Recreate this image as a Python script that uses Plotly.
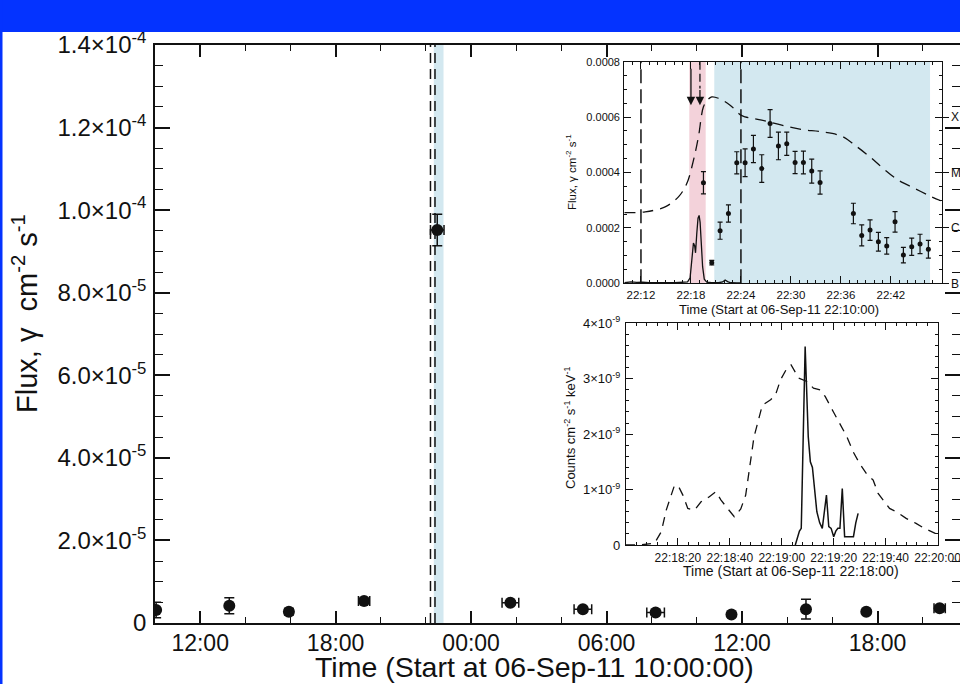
import plotly.graph_objects as go

FONT = "Liberation Sans, Arial, Helvetica, sans-serif"
W, H = 960, 684

# ---------------- Main panel (hours since 06-Sep-11 10:00:00) ----------------
main_hours = [0.05, 3.29, 5.93, 9.26, 12.50, 15.74, 18.95, 22.17, 25.53, 28.83, 31.50, 34.75]
main_flux = [3.15e-6, 4.19e-6, 2.74e-6, 5.33e-6, 9.52e-5, 4.90e-6, 3.35e-6, 2.57e-6,
             2.06e-6, 3.35e-6, 2.75e-6, 3.60e-6]
main_flux_err = [1.9e-6, 1.94e-6, 0.8e-6, 0.6e-6, 3.8e-6, 0.5e-6, 0.5e-6, 0.5e-6,
                 0.5e-6, 2.4e-6, 0.5e-6, 0.6e-6]
main_hours_err = [0.0, 0.0, 0.0, 0.25, 0.30, 0.37, 0.39, 0.39, 0.0, 0.0, 0.0, 0.25]
main_tick_hours = [2, 8, 14, 20, 26, 32]
main_tick_text = ["12:00", "18:00", "00:00", "06:00", "12:00", "18:00"]
main_ytick_vals = [0, 2e-5, 4e-5, 6e-5, 8e-5, 1.0e-4, 1.2e-4, 1.4e-4]
main_ytick_text = ["0", "2.0×10<sup>-5</sup>", "4.0×10<sup>-5</sup>", "6.0×10<sup>-5</sup>",
                   "8.0×10<sup>-5</sup>", "1.0×10<sup>-4</sup>", "1.2×10<sup>-4</sup>",
                   "1.4×10<sup>-4</sup>"]

# ---------------- Inset 1 (minutes since 06-Sep-11 22:10:00) ----------------
in1_goes_min = [0, 2.5, 4.9, 6.5, 7.5, 8.3, 8.9, 9.5, 10.0, 10.5, 11.3, 12.7, 14.0, 14.5,
                16.5, 18.9, 21.3, 23.7, 26.1, 27.7, 29.5, 31.1, 32.9, 34.9, 36.9, 38.0]
in1_goes_val = [2.55e-4, 2.58e-4, 2.76e-4, 3.12e-4, 3.60e-4, 4.44e-4, 5.29e-4, 6.37e-4,
                6.62e-4, 6.73e-4, 6.68e-4, 6.43e-4, 6.07e-4, 6.01e-4, 5.89e-4, 5.71e-4,
                5.55e-4, 5.47e-4, 5.31e-4, 4.98e-4, 4.56e-4, 4.14e-4, 3.72e-4, 3.42e-4,
                3.12e-4, 2.98e-4]
in1_hxr_min = [0, 0.3, 0.8, 1.5, 2.2, 3, 4, 5, 6, 7, 7.6, 7.9, 8.1, 8.3, 8.45, 8.55, 8.7,
               8.85, 8.98, 9.1, 9.25, 9.4, 9.6, 9.9, 10.5, 11.3, 11.8, 12.1, 12.4, 12.8,
               13.5, 14.0]
in1_hxr_val = [2e-6, 4e-6, 5e-6, 3e-6, 4e-6, 2e-6, 3e-6, 2e-6, 2e-6, 3e-6, 5e-6, 2e-5,
               8e-5, 1.45e-4, 1.35e-4, 1.1e-4, 1.8e-4, 2.35e-4, 2.45e-4, 2.2e-4, 1.4e-4,
               6e-5, 1.5e-5, 4e-6, 2e-6, 2e-6, 5e-6, 1.2e-5, 6e-6, 2e-6, 1e-6, 1e-6]
in1_lat_min = [9.5, 10.5, 11.5, 12.5, 13.5, 14.5, 15.5, 16.5, 17.5, 18.5, 19.5, 20.5,
               21.5, 22.5, 23.5, 27.5, 28.5, 29.5, 30.5, 31.5, 32.5, 33.5, 34.5, 35.5, 36.5]
in1_lat_val = [3.63e-4, 0.745e-4, 1.90e-4, 2.52e-4, 4.35e-4, 4.35e-4, 4.85e-4, 4.14e-4,
               5.77e-4, 4.96e-4, 5.04e-4, 4.36e-4, 4.36e-4, 4.05e-4, 3.64e-4, 2.52e-4,
               1.73e-4, 1.92e-4, 1.50e-4, 1.35e-4, 2.22e-4, 1.02e-4, 1.32e-4, 1.42e-4,
               1.23e-4]
in1_lat_err = [4.0e-5, 0.84e-5, 3.1e-5, 3.1e-5, 4.0e-5, 5.0e-5, 4.9e-5, 5.0e-5, 5.0e-5,
               5.0e-5, 4.2e-5, 4.0e-5, 4.1e-5, 4.3e-5, 4.2e-5, 3.7e-5, 3.8e-5, 3.7e-5,
               3.4e-5, 3.0e-5, 3.7e-5, 2.8e-5, 3.1e-5, 3.5e-5, 3.2e-5]
in1_pink_band = [7.8, 9.77]
in1_blue_band = [10.8, 36.7]
in1_dashed_lines = [2.0, 14.0]
in1_arrows_min = [8.0, 9.08]
in1_arrow_tip = 6.43e-4
in1_tick_min = [2, 8, 14, 20, 26, 32]
in1_tick_text = ["22:12", "22:18", "22:24", "22:30", "22:36", "22:42"]
in1_ytick_vals = [0, 2e-4, 4e-4, 6e-4, 8e-4]
in1_ytick_text = ["0.0000", "0.0002", "0.0004", "0.0006", "0.0008"]
in1_class_vals = [0, 2e-4, 4e-4, 6e-4]
in1_class_text = ["B", "C", "M", "X"]

# ---------------- Inset 2 (seconds since 06-Sep-11 22:18:00) ----------------
in2_dash_sec = [0, 5, 11, 13.6, 15.5, 17.5, 18.7, 20.3, 21.9, 23.8, 26.4, 28.9, 32.1, 34.6,
                36.6, 39.1, 41.7, 44.2, 46.1, 49.3, 52.5, 55.7, 57.6, 59.5, 62.0, 63.6,
                64.6, 66.5, 69.7, 72.2, 74.8, 76.7, 79.9, 82.4, 85.0, 87.5, 90.1, 92.6,
                95.2, 97.1, 99.0, 101.5, 104.1, 107.9, 111.7, 114.9, 119.1]
in2_dash_val = [0.0, 0.0, 0.03, 0.24, 0.63, 0.93, 1.08, 1.05, 0.90, 0.66, 0.63, 0.78, 0.87,
                0.96, 0.81, 0.66, 0.51, 0.65, 0.90, 1.95, 2.52, 2.62, 2.71, 2.98, 3.19,
                3.25, 3.17, 3.01, 2.95, 2.83, 2.80, 2.68, 2.40, 2.17, 1.96, 1.68, 1.46,
                1.29, 1.17, 0.93, 0.81, 0.66, 0.60, 0.48, 0.39, 0.30, 0.21]
in2_solid_sec = [65.2, 66.8, 67.5, 69.0, 70.2, 71.0, 71.8, 72.6, 73.5, 74.6, 75.6, 77.2,
                 78.1, 79.0, 80.0, 80.8, 81.6, 82.4, 83.3, 84.2, 86.0, 87.6, 88.5, 89.4]
in2_solid_val = [0.0, 0.25, 0.3, 3.58, 1.95, 1.5, 1.4, 0.95, 0.6, 0.4, 0.3, 0.9, 0.33, 0.3,
                 0.15, 0.25, 0.3, 0.3, 1.02, 0.15, 0.15, 0.15, 0.4, 0.57]
in2_tick_sec = [20, 40, 60, 80, 100, 120]
in2_tick_text = ["22:18:20", "22:18:40", "22:19:00", "22:19:20", "22:19:40", "22:20:00"]
in2_ytick_vals = [0, 1, 2, 3, 4]
in2_ytick_text = ["0", "1×10<sup>-9</sup>", "2×10<sup>-9</sup>", "3×10<sup>-9</sup>",
                  "4×10<sup>-9</sup>"]

BLACK = "#111111"
PINK = "#f3d2da"
LIGHTBLUE = "#d3e8f0"

fig = go.Figure()

# ---- main panel traces ----
fig.add_trace(go.Scatter(
    x=main_hours, y=main_flux, mode="markers", xaxis="x", yaxis="y",
    marker=dict(color=BLACK, size=12),
    error_y=dict(type="data", array=main_flux_err, color=BLACK, thickness=1.5, width=5),
    error_x=dict(type="data", array=main_hours_err, color=BLACK, thickness=1.5, width=5),
    showlegend=False, hoverinfo="skip"))

# main: flare window lines and band (converted from inset-1 minutes)
main_band = [12 + (10 + m) / 60 for m in in1_blue_band]
main_lines = [12 + (10 + m) / 60 for m in in1_dashed_lines]
shapes = []
shapes.append(dict(type="rect", xref="x", yref="y domain", x0=main_band[0], x1=main_band[1],
                   y0=0, y1=1, fillcolor=LIGHTBLUE, line=dict(width=0), layer="below"))
for hl in main_lines:
    shapes.append(dict(type="line", xref="x", yref="y domain", x0=hl, x1=hl, y0=0, y1=1,
                       line=dict(color=BLACK, width=1.5, dash="10px,6px")))

# ---- inset 1 ----
shapes.append(dict(type="rect", xref="x2", yref="y2 domain", x0=in1_pink_band[0],
                   x1=in1_pink_band[1], y0=0, y1=1, fillcolor=PINK, line=dict(width=0),
                   layer="below"))
shapes.append(dict(type="rect", xref="x2", yref="y2 domain", x0=in1_blue_band[0],
                   x1=in1_blue_band[1], y0=0, y1=1, fillcolor=LIGHTBLUE, line=dict(width=0),
                   layer="below"))
for m in in1_dashed_lines:
    shapes.append(dict(type="line", xref="x2", yref="y2 domain", x0=m, x1=m, y0=0, y1=1,
                       line=dict(color=BLACK, width=1.5, dash="14px,6px")))

fig.add_trace(go.Scatter(x=in1_goes_min, y=in1_goes_val, mode="lines", xaxis="x2", yaxis="y2",
                         line=dict(color=BLACK, width=1.3, dash="11px,7px", shape="spline"),
                         showlegend=False, hoverinfo="skip"))
fig.add_trace(go.Scatter(x=in1_hxr_min, y=in1_hxr_val, mode="lines", xaxis="x2", yaxis="y2",
                         line=dict(color=BLACK, width=1.3), showlegend=False, hoverinfo="skip"))
fig.add_trace(go.Scatter(x=in1_lat_min, y=in1_lat_val, mode="markers", xaxis="x2", yaxis="y2",
                         marker=dict(color=BLACK, size=5),
                         error_y=dict(type="data", array=in1_lat_err, color=BLACK,
                                      thickness=1.2, width=2.5),
                         showlegend=False, hoverinfo="skip"))
# dashed stem for second arrow
fig.add_trace(go.Scatter(x=[in1_arrows_min[1], in1_arrows_min[1]],
                         y=[in1_ytick_vals[-1], in1_arrow_tip + 6e-5], mode="lines",
                         xaxis="x2", yaxis="y2",
                         line=dict(color=BLACK, width=1.3, dash="8px,4px"),
                         showlegend=False, hoverinfo="skip"))
fig.add_trace(go.Scatter(x=[None], y=[None], xaxis="x2", yaxis="y3", showlegend=False,
                         hoverinfo="skip"))

annotations = []
annotations.append(dict(x=in1_arrows_min[0], y=in1_arrow_tip, xref="x2", yref="y2",
                        ax=in1_arrows_min[0], ay=7.8e-4, axref="x2", ayref="y2",
                        showarrow=True, arrowhead=2, arrowsize=1.3, arrowwidth=1.3,
                        arrowcolor=BLACK, text=""))
annotations.append(dict(x=in1_arrows_min[1], y=in1_arrow_tip, xref="x2", yref="y2",
                        ax=in1_arrows_min[1], ay=in1_arrow_tip + 6e-5, axref="x2", ayref="y2",
                        showarrow=True, arrowhead=2, arrowsize=1.3, arrowwidth=1.3,
                        arrowcolor=BLACK, text=""))

# ---- inset 2 ----
fig.add_trace(go.Scatter(x=in2_dash_sec, y=in2_dash_val, mode="lines", xaxis="x3", yaxis="y4",
                         line=dict(color=BLACK, width=1.3, dash="9px,7px"),
                         showlegend=False, hoverinfo="skip"))
fig.add_trace(go.Scatter(x=in2_solid_sec, y=in2_solid_val, mode="lines", xaxis="x3",
                         yaxis="y4", line=dict(color=BLACK, width=1.5),
                         showlegend=False, hoverinfo="skip"))

# ---- decorations: blue slide header ----
shapes.append(dict(type="rect", xref="paper", yref="paper", x0=0, x1=1, y0=(H - 32) / H, y1=1,
                   fillcolor="#0433ff", line=dict(width=0), layer="above"))
shapes.append(dict(type="rect", xref="paper", yref="paper", x0=0, x1=2.5 / W, y0=0, y1=1,
                   fillcolor="#0433ff", line=dict(width=0), layer="above"))

# ---- titles ----
annotations.append(dict(text="Time (Start at 06-Sep-11 10:00:00)", xref="paper", yref="paper",
                        x=534 / W, y=(H - 667) / H, showarrow=False,
                        font=dict(size=28.5, color=BLACK, family=FONT),
                        xanchor="center", yanchor="middle"))
annotations.append(dict(text="Flux, γ  cm<sup>-2</sup> s<sup>-1</sup>", xref="paper",
                        yref="paper", x=25 / W, y=(H - 314) / H, showarrow=False, textangle=-90,
                        font=dict(size=29, color=BLACK, family=FONT),
                        xanchor="center", yanchor="middle"))
annotations.append(dict(text="Time (Start at 06-Sep-11 22:10:00)", xref="paper", yref="paper",
                        x=779 / W, y=(H - 309) / H, showarrow=False,
                        font=dict(size=13, color=BLACK, family=FONT),
                        xanchor="center", yanchor="middle"))
annotations.append(dict(text="Flux, γ cm<sup>-2</sup> s<sup>-1</sup>", xref="paper",
                        yref="paper", x=571 / W, y=(H - 172) / H, showarrow=False,
                        textangle=-90, font=dict(size=11.5, color=BLACK, family=FONT),
                        xanchor="center", yanchor="middle"))
annotations.append(dict(text="Time (Start at 06-Sep-11 22:18:00)", xref="paper", yref="paper",
                        x=791 / W, y=(H - 571) / H, showarrow=False,
                        font=dict(size=14, color=BLACK, family=FONT),
                        xanchor="center", yanchor="middle"))
annotations.append(dict(text="Counts cm<sup>-2</sup> s<sup>-1</sup> keV<sup>-1</sup>",
                        xref="paper", yref="paper", x=570 / W, y=(H - 428) / H,
                        showarrow=False, textangle=-90,
                        font=dict(size=13, color=BLACK, family=FONT),
                        xanchor="center", yanchor="middle"))

axis_common = dict(showgrid=False, zeroline=False, showline=True, linecolor=BLACK,
                   ticks="inside", tickcolor=BLACK, mirror="ticks", automargin=False,
                   tickangle=0, ticklabeloverflow="allow")

fig.update_layout(
    width=W, height=H, autosize=False,
    margin=dict(l=0, r=0, t=0, b=0, pad=0, autoexpand=False),
    paper_bgcolor="white", plot_bgcolor="rgba(0,0,0,0)",
    font=dict(family=FONT, color=BLACK),
    shapes=shapes, annotations=annotations,
    xaxis=dict(**axis_common, domain=[155 / W, 1.0], range=[0, (W - 155) / 22.58],
               anchor="y", linewidth=1.5, tickwidth=1.5, ticklen=12,
               tickmode="array", tickvals=main_tick_hours, ticktext=main_tick_text,
               tickfont=dict(size=23), ticklabelstandoff=-1,
               minor=dict(ticks="inside", ticklen=6, tickwidth=1.2, tick0=0, dtick=2,
                          tickcolor=BLACK)),
    yaxis=dict(**axis_common, domain=[(H - 623) / H, (H - 45) / H], range=[0, 1.4e-4],
               anchor="x", linewidth=1.5, tickwidth=1.5, ticklen=15,
               tickmode="array", tickvals=main_ytick_vals, ticktext=main_ytick_text,
               tickfont=dict(size=24), ticklabelstandoff=2,
               minor=dict(ticks="inside", ticklen=8, tickwidth=1.2, tick0=0, dtick=5e-6,
                          tickcolor=BLACK)),
    xaxis2=dict(**axis_common, domain=[624.3 / W, 941.7 / W], range=[0, 38.1], anchor="y2",
                linewidth=1.2, tickwidth=1.2, ticklen=7,
                tickmode="array", tickvals=in1_tick_min, ticktext=in1_tick_text,
                tickfont=dict(size=11.5), ticklabelstandoff=1,
                minor=dict(ticks="inside", ticklen=3, tick0=0, dtick=1, tickcolor=BLACK)),
    yaxis2=dict(**axis_common, domain=[(H - 283.3) / H, (H - 61.7) / H], range=[0, 8e-4],
                anchor="x2", linewidth=1.2, tickwidth=1.2, ticklen=7,
                tickmode="array", tickvals=in1_ytick_vals, ticktext=in1_ytick_text,
                tickfont=dict(size=11), ticklabelstandoff=1,
                minor=dict(ticks="inside", ticklen=3, tick0=0, dtick=5e-5, tickcolor=BLACK)),
    yaxis3=dict(overlaying="y2", anchor="x2", side="right", range=[0, 8e-4], showgrid=False,
                zeroline=False, showline=False, ticks="outside", ticklen=6, tickwidth=1.2,
                tickcolor=BLACK, tickmode="array", tickvals=in1_class_vals,
                ticktext=in1_class_text, tickfont=dict(size=12), ticklabelstandoff=0,
                automargin=False),
    xaxis3=dict(**axis_common, domain=[626 / W, 937.7 / W], range=[0, 120.05], anchor="y4",
                linewidth=1.2, tickwidth=1.2, ticklen=7,
                tickmode="array", tickvals=in2_tick_sec, ticktext=in2_tick_text,
                tickfont=dict(size=12), ticklabelstandoff=1,
                minor=dict(ticks="inside", ticklen=3, tick0=0, dtick=4, tickcolor=BLACK)),
    yaxis4=dict(**axis_common, domain=[(H - 545) / H, (H - 323.3) / H], range=[0, 4],
                anchor="x3", linewidth=1.2, tickwidth=1.2, ticklen=7,
                tickmode="array", tickvals=in2_ytick_vals, ticktext=in2_ytick_text,
                tickfont=dict(size=13), ticklabelstandoff=2,
                minor=dict(ticks="inside", ticklen=3, tick0=0, dtick=0.2, tickcolor=BLACK)),
)

fig.write_html("out.html")
